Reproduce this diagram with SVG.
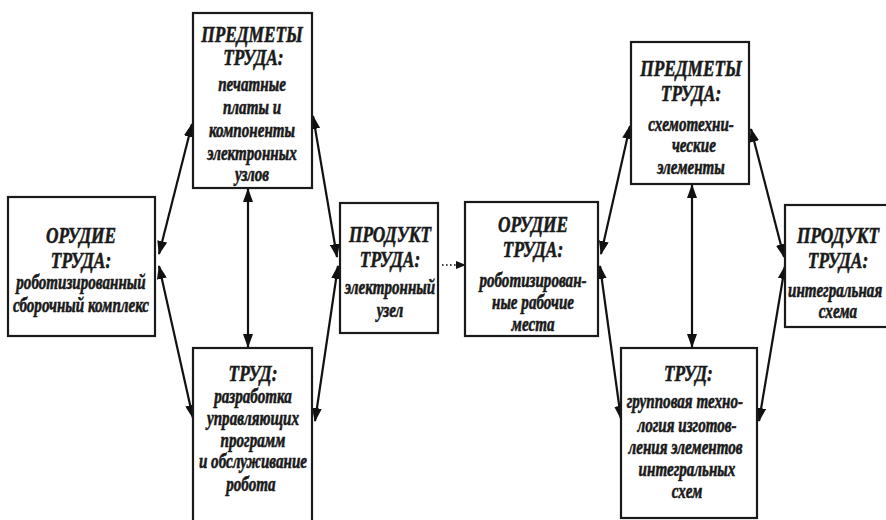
<svg xmlns="http://www.w3.org/2000/svg" width="886" height="520" viewBox="0 0 886 520">
<style>
.box{fill:#fff;stroke:#1a1a1a;stroke-width:2.2}
text{font-family:"Liberation Serif","Times New Roman",serif;font-weight:bold;font-style:italic;fill:#1a1a1a;stroke:#1a1a1a;stroke-width:0.6;text-anchor:middle}
.h{font-size:24px}
.b{font-size:21px}
.con{stroke:#111;stroke-width:2.2;fill:none;marker-start:url(#ah);marker-end:url(#ah)}
.dot{stroke:#111;stroke-width:1.6;fill:none;stroke-dasharray:1.6 2.4;marker-end:url(#sah)}
</style>
<defs>
<marker id="ah" viewBox="0 0 14 10" refX="13" refY="5" markerWidth="14" markerHeight="10" markerUnits="userSpaceOnUse" orient="auto-start-reverse">
<path d="M0,0 L14,5 L0,10 z" fill="#111"/>
</marker>
<marker id="sah" viewBox="0 0 10 8" refX="9" refY="4" markerWidth="10" markerHeight="8" markerUnits="userSpaceOnUse" orient="auto">
<path d="M0,0 L10,4 L0,8 z" fill="#111"/>
</marker>
</defs>
<rect width="886" height="520" fill="#fff"/>

<g id="connectors">
<line class="con" x1="159" y1="254" x2="192" y2="124"/>
<line class="con" x1="159" y1="266" x2="193" y2="418"/>
<line class="con" x1="313" y1="116" x2="337" y2="257"/>
<line class="con" x1="338" y1="266" x2="315" y2="421"/>
<line class="con" x1="248" y1="189" x2="248" y2="347"/>
<line class="con" x1="601" y1="254" x2="630" y2="126"/>
<line class="con" x1="600" y1="266" x2="621" y2="419"/>
<line class="con" x1="751" y1="129" x2="784" y2="257"/>
<line class="con" x1="785" y1="266" x2="759" y2="421"/>
<line class="con" x1="692" y1="185" x2="692" y2="347"/>
<line class="dot" x1="442" y1="265" x2="465" y2="265"/>
</g>

<g id="orudie1">
<rect class="box" x="8" y="197" width="147" height="139"/>
<g transform="translate(81,0) scale(0.72,1)">
<text class="h" x="0" y="243">ОРУДИЕ</text>
<text class="h" x="0" y="268">ТРУДА:</text>
<text class="b" x="0" y="289">роботизированный</text>
<text class="b" x="0" y="312">сборочный комплекс</text>
</g>
</g>

<g id="predmety1">
<rect class="box" x="193" y="13" width="119" height="175"/>
<g transform="translate(252,0) scale(0.72,1)">
<text class="h" x="0" y="42">ПРЕДМЕТЫ</text>
<text class="h" x="2" y="65">ТРУДА:</text>
<text class="b" x="0" y="91">печатные</text>
<text class="b" x="0" y="114">платы и</text>
<text class="b" x="0" y="137">компоненты</text>
<text class="b" x="0" y="160">электронных</text>
<text class="b" x="0" y="181">узлов</text>
</g>
</g>

<g id="trud1">
<rect class="box" x="193" y="348" width="119" height="176"/>
<g transform="translate(253,0) scale(0.72,1)">
<text class="h" x="0" y="381">ТРУД:</text>
<text class="b" x="0" y="403">разработка</text>
<text class="b" x="0" y="425">управляющих</text>
<text class="b" x="0" y="447">программ</text>
<text class="b" x="0" y="468">и обслуживание</text>
<text class="b" x="-3" y="491">робота</text>
</g>
</g>

<g id="produkt1">
<rect class="box" x="340" y="203" width="98" height="130"/>
<g transform="translate(390,0) scale(0.72,1)">
<text class="h" x="0" y="242">ПРОДУКТ</text>
<text class="h" x="0" y="267">ТРУДА:</text>
<text class="b" x="0" y="294">электронный</text>
<text class="b" x="0" y="317">узел</text>
</g>
</g>

<g id="orudie2">
<rect class="box" x="465" y="202" width="133" height="134"/>
<g transform="translate(533,0) scale(0.72,1)">
<text class="h" x="0" y="232">ОРУДИЕ</text>
<text class="h" x="0" y="257">ТРУДА:</text>
<text class="b" x="0" y="287">роботизирован-</text>
<text class="b" x="0" y="309">ные рабочие</text>
<text class="b" x="0" y="331">места</text>
</g>
</g>

<g id="predmety2">
<rect class="box" x="631" y="42" width="118" height="142"/>
<g transform="translate(691,0) scale(0.72,1)">
<text class="h" x="0" y="76">ПРЕДМЕТЫ</text>
<text class="h" x="0" y="101">ТРУДА:</text>
<text class="b" x="0" y="131">схемотехни-</text>
<text class="b" x="4" y="152">ческие</text>
<text class="b" x="0" y="174">элементы</text>
</g>
</g>

<g id="trud2">
<rect class="box" x="621" y="348" width="136" height="170"/>
<g transform="translate(687,0) scale(0.72,1)">
<text class="h" x="2" y="381">ТРУД:</text>
<text class="b" x="-3" y="408">групповая техно-</text>
<text class="b" x="0" y="432">логия изготов-</text>
<text class="b" x="-2" y="454">ления элементов</text>
<text class="b" x="0" y="476">интегральных</text>
<text class="b" x="0" y="498">схем</text>
</g>
</g>

<g id="produkt2">
<rect class="box" x="785" y="205" width="105" height="122"/>
<g transform="translate(838,0) scale(0.72,1)">
<text class="h" x="0" y="243">ПРОДУКТ</text>
<text class="h" x="0" y="268">ТРУДА:</text>
<text class="b" x="-4" y="297">интегральная</text>
<text class="b" x="0" y="318">схема</text>
</g>
</g>
</svg>
